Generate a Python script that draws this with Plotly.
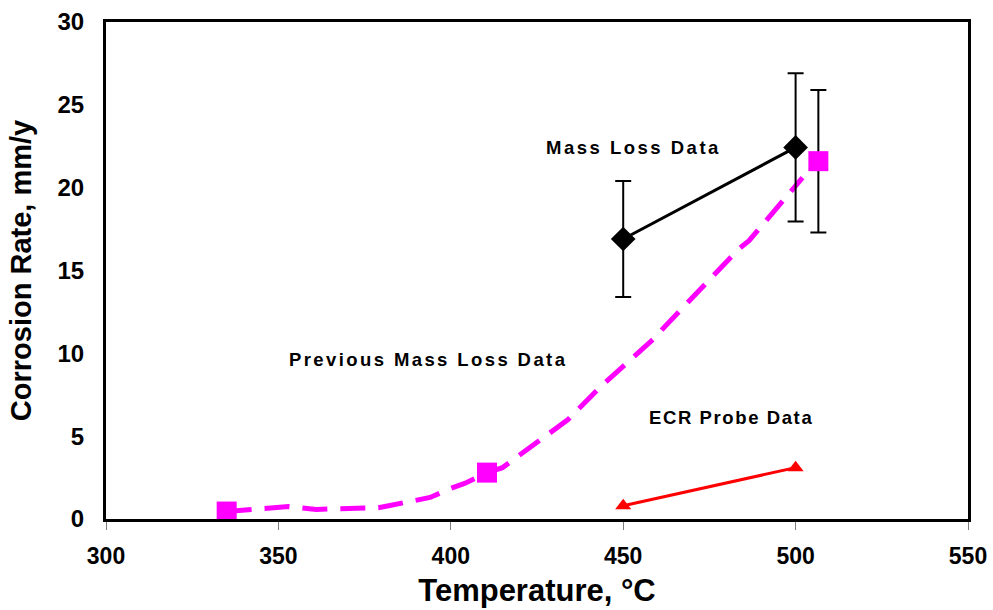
import plotly.graph_objects as go

# Previous mass loss data (dashed curve)
prev_curve_x = [335, 342, 353, 361, 379, 382, 394, 400, 404, 410.5, 415, 434, 444, 459, 462, 483.5, 486.5, 502]
prev_curve_y = [0.45, 0.55, 0.75, 0.58, 0.68, 0.8, 1.3, 1.85, 2.15, 2.8, 3.1, 6.0, 8.1, 10.9, 11.6, 16.3, 16.8, 20.6]

# Previous mass loss data (square markers)
prev_sq_x = [335, 410.5, 506.6]
prev_sq_y = [0.45, 2.8, 21.6]
prev_sq_err = [None, None, 4.3]

# Mass loss data
mass_x = [450, 500]
mass_y = [16.9, 22.43]
mass_err = [3.5, 4.47]

# ECR probe data
ecr_x = [450, 500]
ecr_y = [0.8, 3.1]

x_ticks = [300, 350, 400, 450, 500, 550]
y_ticks = [0, 5, 10, 15, 20, 25, 30]

FONT = "Liberation Sans"
MAGENTA = "#FF00FF"

fig = go.Figure()

fig.add_trace(go.Scatter(
    x=prev_curve_x, y=prev_curve_y, mode="lines",
    line=dict(color=MAGENTA, width=5, dash="25px,13px"),
    showlegend=False, hoverinfo="skip"))

fig.add_trace(go.Scatter(
    x=prev_sq_x, y=prev_sq_y, mode="markers",
    marker=dict(symbol="square", size=20, color=MAGENTA),
    error_y=dict(type="data", array=prev_sq_err, visible=True,
                 color="black", thickness=2, width=8),
    showlegend=False))

fig.add_trace(go.Scatter(
    x=mass_x, y=mass_y, mode="lines+markers",
    line=dict(color="black", width=3),
    marker=dict(symbol="diamond", size=19, color="black"),
    error_y=dict(type="data", array=mass_err, visible=True,
                 color="black", thickness=2, width=8),
    showlegend=False))

fig.add_trace(go.Scatter(
    x=ecr_x, y=ecr_y, mode="lines+markers",
    line=dict(color="#FF0000", width=3),
    marker=dict(symbol="triangle-up", size=14, color="#FF0000"),
    showlegend=False))

ann_font = dict(family=FONT, size=18.5, color="black")
def lbl(t, sp):
    return f'<span style="letter-spacing:{sp}px"><b>{t}</b></span>'
fig.add_annotation(x=453, y=22.45, text=lbl("Mass Loss Data", 2.5), showarrow=False, font=ann_font)
fig.add_annotation(x=393.5, y=9.6, text=lbl("Previous Mass Loss Data", 2.4), showarrow=False, font=ann_font)
fig.add_annotation(x=481.4, y=6.1, text=lbl("ECR Probe Data", 1.6), showarrow=False, font=ann_font)

fig.update_layout(
    width=993, height=610,
    margin=dict(l=106, r=25, t=22, b=91),
    paper_bgcolor="white", plot_bgcolor="white",
    font=dict(family=FONT, color="black"),
    xaxis=dict(
        range=[300, 550], tickvals=x_ticks,
        ticktext=[f"<b>{v}</b>" for v in x_ticks],
        tickfont=dict(family=FONT, size=23, color="black"),
        showgrid=False, zeroline=False, automargin=False,
        showline=True, linecolor="black", linewidth=3, mirror=True,
        ticks="outside", ticklen=8, tickcolor="gray", tickwidth=1,
        ticklabelstandoff=6,
        title=dict(text="<b>Temperature, °C</b>", font=dict(family=FONT, size=31, color="black"), standoff=12),
    ),
    yaxis=dict(
        range=[0, 30], tickvals=y_ticks,
        ticktext=[f"<b>{v}</b>" for v in y_ticks],
        tickfont=dict(family=FONT, size=24, color="black"),
        showgrid=False, zeroline=False, automargin=False,
        showline=True, linecolor="black", linewidth=3, mirror=True,
        ticks="", ticklabelstandoff=14,
        title=dict(text="<b>Corrosion Rate, mm/y</b>", font=dict(family=FONT, size=29, color="black"), standoff=18),
    ),
)

fig.write_html("out.html")
